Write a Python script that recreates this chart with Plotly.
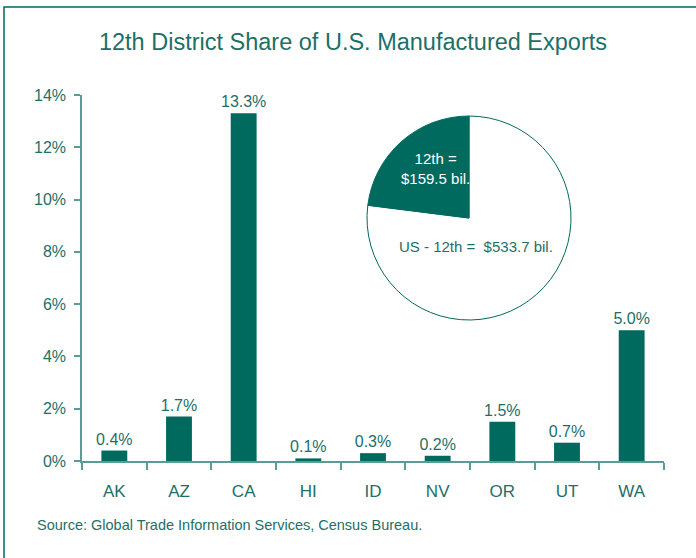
import plotly.graph_objects as go

states = ["AK", "AZ", "CA", "HI", "ID", "NV", "OR", "UT", "WA"]
shares = [0.4, 1.7, 13.3, 0.1, 0.3, 0.2, 1.5, 0.7, 5.0]
pie_labels = ["US - 12th", "12th"]
pie_values = [533.7, 159.5]
y_ticks = [0, 2, 4, 6, 8, 10, 12, 14]

TEAL = "#006a5f"
TEXT = "#1d6f67"
AXIS = "#5a9d96"
FONT = "Liberation Sans, Arial"
W, H = 696, 558
L, R, T, B = 82, 32, 95, 97
pw, ph = W - L - R, H - T - B

def px_x(p):
    return (p - L) / pw

def px_y(p):
    return (H - B - p) / ph

fig = go.Figure()
fig.add_trace(go.Bar(
    x=states, y=shares,
    marker=dict(color=TEAL, line=dict(width=0)),
    text=[f"{v:.1f}%" for v in shares],
    textposition="outside",
    constraintext="none",
    textfont=dict(family=FONT, size=16, color=TEXT),
    cliponaxis=False,
    width=0.4,
    showlegend=False,
))
fig.add_trace(go.Pie(
    labels=pie_labels, values=pie_values,
    sort=False, direction="clockwise", rotation=0,
    marker=dict(colors=["white", TEAL], line=dict(color=TEAL, width=1)),
    textinfo="none", hoverinfo="label+value", showlegend=False,
    domain=dict(x=[px_x(367), px_x(571)], y=[px_y(320), px_y(116)]),
))

fig.add_annotation(xref="paper", yref="paper", x=px_x(435), y=px_y(168),
                   xanchor="center", yanchor="middle",
                   text=f"{pie_labels[1]} =<br>${pie_values[1]:.1f} bil.",
                   showarrow=False, align="center",
                   font=dict(family=FONT, size=15, color="white"))
fig.add_annotation(xref="paper", yref="paper", x=px_x(476), y=px_y(246),
                   xanchor="center", yanchor="middle",
                   text=f"{pie_labels[0]} =  ${pie_values[0]:.1f} bil.",
                   showarrow=False,
                   font=dict(family=FONT, size=15, color=TEXT))
fig.add_annotation(xref="paper", yref="paper", x=px_x(35), y=px_y(525),
                   xanchor="left", yanchor="middle",
                   text="Source: Global Trade Information Services, Census Bureau.",
                   showarrow=False,
                   font=dict(family=FONT, size=14.5, color=TEXT))

fig.add_shape(type="rect", xref="paper", yref="paper",
              x0=px_x(4), x1=px_x(705), y0=px_y(570), y1=px_y(7),
              line=dict(color=TEAL, width=1.5), fillcolor="rgba(0,0,0,0)", layer="below")

fig.update_layout(
    width=W, height=H,
    margin=dict(l=L, r=R, t=T, b=B, autoexpand=False),
    paper_bgcolor="white", plot_bgcolor="white",
    title=dict(text="12th District Share of U.S. Manufactured Exports",
               x=353 / W, xanchor="center", y=1 - 42 / H, yanchor="middle",
               font=dict(family=FONT, size=23.5, color=TEXT)),
    bargap=0.6,
    xaxis=dict(showline=True, linecolor=AXIS, linewidth=1.5,
               ticks="outside", tickson="boundaries", ticklen=7, tickcolor=AXIS, tickwidth=1.5,
               ticklabelstandoff=14,
               tickfont=dict(family=FONT, size=17, color=TEXT),
               showgrid=False, zeroline=False, fixedrange=True),
    yaxis=dict(range=[0, 14], tickvals=y_ticks, ticktext=[f"{v}%" for v in y_ticks],
               showline=True, linecolor=AXIS, linewidth=1.5,
               ticks="outside", ticklen=6, tickcolor=AXIS, tickwidth=1.5,
               ticklabelstandoff=5,
               tickfont=dict(family=FONT, size=16, color=TEXT),
               showgrid=False, zeroline=False, fixedrange=True),
)

fig.write_html("out.html", config={"displayModeBar": False},
               post_script="document.body.style.margin='0';")
